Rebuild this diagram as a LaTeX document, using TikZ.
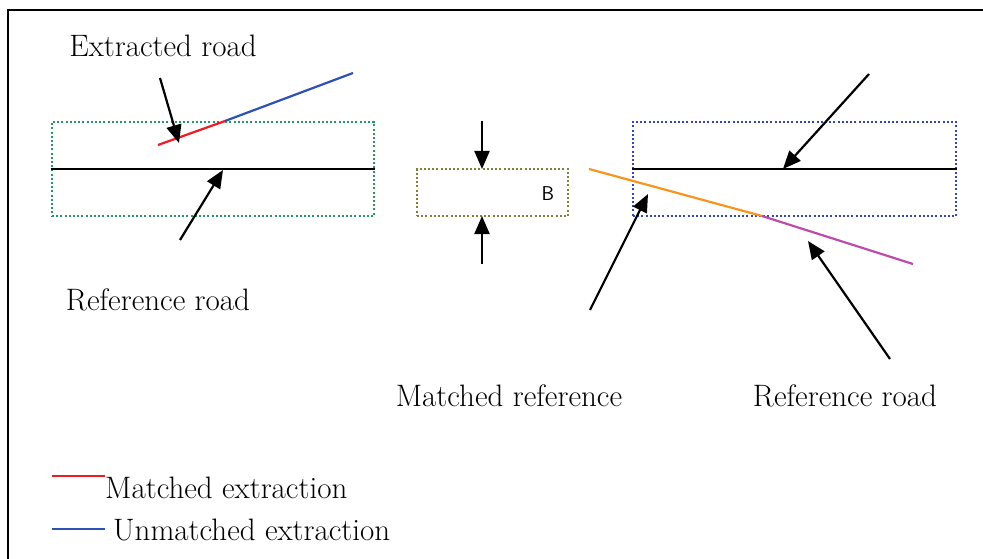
\documentclass[tikz,border=0pt]{standalone}
\usetikzlibrary{arrows.meta, positioning}
\definecolor{zonegreen}{RGB}{40,150,100}
\definecolor{zoneolive}{RGB}{128,128,60}
\definecolor{zoneblue}{RGB}{50,70,180}
\definecolor{roadred}{RGB}{237,28,36}
\definecolor{roadblue}{RGB}{45,80,180}
\definecolor{roadorange}{RGB}{247,148,30}
\definecolor{roadpink}{RGB}{190,75,170}
\tikzstyle{zone} = [draw, line width=2.2pt, dash pattern=on 2pt off 2.2pt, inner sep=0pt]
\tikzstyle{road} = [line width=2.2pt]
\tikzstyle{pointer} = [-{Triangle[length=18pt,width=15pt]}, line width=2.2pt]
\tikzstyle{txt} = [font=\fontsize{31}{36}\selectfont, inner sep=0pt]

\begin{document}
\begin{tikzpicture}[x=1pt, y=-1pt]
  \useasboundingbox (0,0) rectangle (983,559);
  \draw[line width=2.5pt] (8,559) -- (8,10) -- (983,10);

  % left panel
  \node[zone, draw=zonegreen, minimum width=322pt, minimum height=94pt] (lz) at (213,169) {};
  \draw[road] (lz.west) -- (lz.east);
  \coordinate (ex1) at (158,145);
  \coordinate (ex2) at (225,121);
  \coordinate (ex3) at (353,73);
  \draw[road, roadred] (ex1) -- (ex2);
  \draw[road, roadblue] (ex2) -- (ex3);
  \node[txt] (extr) at (163,46) {Extracted road};
  \node[txt] (refl) at (158,300) {Reference road};
  \coordinate (a1s) at (160,78);
  \coordinate (a1e) at (179,143);
  \coordinate (a2s) at (180,240);
  \coordinate (a2e) at (223,170);
  \draw[pointer] (a1s) -- (a1e);
  \draw[pointer] (a2s) -- (a2e);

  % buffer
  \node[zone, draw=zoneolive, minimum width=151pt, minimum height=47pt] (mz) at (492.5,192.5) {};
  \node[font=\sffamily\fontsize{20}{24}\selectfont, inner sep=0pt] (buf) at (548,194) {B};
  \coordinate (b1s) at (482,121);
  \coordinate (b1e) at (482,169);
  \coordinate (b2s) at (482,264);
  \coordinate (b2e) at (482,216);
  \draw[pointer] (b1s) -- (b1e);
  \draw[pointer] (b2s) -- (b2e);

  % right panel
  \node[zone, draw=zoneblue, minimum width=323pt, minimum height=94pt] (rz) at (794.5,169) {};
  \draw[road] (rz.west) -- (rz.east);
  \coordinate (rf1) at (589,169);
  \coordinate (rf2) at (762,216);
  \coordinate (rf3) at (913,264);
  \draw[road, roadorange] (rf1) -- (rf2);
  \draw[road, roadpink] (rf2) -- (rf3);
  \node[txt] (matr) at (509,396) {Matched reference};
  \node[txt] (refr) at (845,396) {Reference road};
  \coordinate (c1s) at (869,74);
  \coordinate (c1e) at (783,169);
  \coordinate (c2s) at (590,310);
  \coordinate (c2e) at (648,194);
  \coordinate (c3s) at (890,359);
  \coordinate (c3e) at (808,241);
  \draw[pointer] (c1s) -- (c1e);
  \draw[pointer] (c2s) -- (c2e);
  \draw[pointer] (c3s) -- (c3e);

  % legend
  \coordinate (l1a) at (52,476);
  \coordinate (l1b) at (105,476);
  \coordinate (l2a) at (52,529);
  \coordinate (l2b) at (105,529);
  \draw[road, roadred] (l1a) -- (l1b);
  \draw[road, roadblue] (l2a) -- (l2b);
  \node[txt, anchor=west] (leg1) at (105,488) {Matched extraction};
  \node[txt, anchor=west] (leg2) at (113,530) {Unmatched extraction};
\end{tikzpicture}
\end{document}
